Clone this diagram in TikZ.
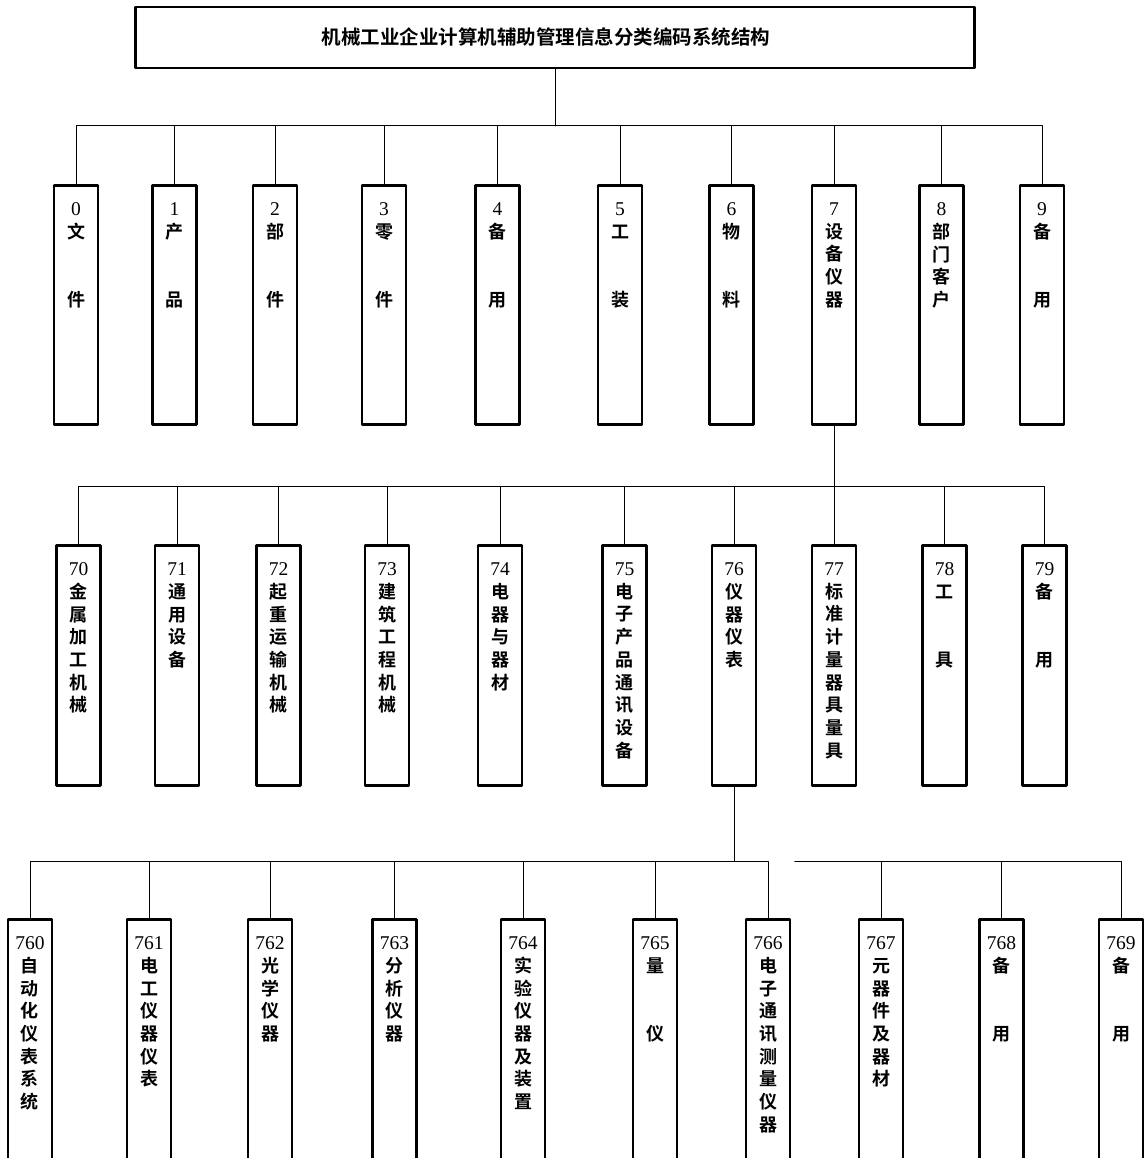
\documentclass[tikz,border=0pt]{standalone}
\usepackage{fontspec}
\setmainfont{Liberation Serif}
\newfontfamily\cjk{Noto Sans CJK SC}[BoldFont={* Bold}]
\newcommand\colbox[3]{\parbox[t][#1][t]{44pt}{\centering\vspace*{17.5pt}{\rmfamily\mdseries\fontsize{19.5}{19.5}\selectfont #2}\\#3}}
\begin{document}
\begin{tikzpicture}[x=1pt,y=-1pt,line join=round,line cap=round]
\tikzset{box/.style={draw,line width=2.6pt,inner sep=0pt,anchor=north,
    font=\cjk\bfseries\fontsize{18}{22.7}\selectfont},
  wire/.style={line width=1pt}}
\useasboundingbox[fill=white] (0,0) rectangle (1146,1158);
\clip (0,0) rectangle (1146,1158);
\node[draw,line width=2.4pt,minimum width=839pt,minimum height=61pt,
  font=\cjk\bfseries\fontsize{19.5}{19.5}\selectfont] (title) at (555,37.5)
  {\hspace*{-18pt}机械工业企业计算机辅助管理信息分类编码系统结构};
% first level
\coordinate (bus1) at (555,126);
\foreach \c/\x/\t in {0/76/{文\\[2\baselineskip]件},1/174.5/{产\\[2\baselineskip]品},
    2/275/{部\\[2\baselineskip]件},3/384/{零\\[2\baselineskip]件},4/497.5/{备\\[2\baselineskip]用},
    5/620/{工\\[2\baselineskip]装},6/731.5/{物\\[2\baselineskip]料},7/834/{设\\备\\仪\\器},
    8/941.5/{部\\门\\客\\户},9/1042/{备\\[2\baselineskip]用}}
  \node[box] (b\c) at (\x,184) {\colbox{239pt}{\c}{\t}};
\draw[wire] (title.south) -- (bus1);
\foreach \c in {0,...,9} \draw[wire] (bus1) -| (b\c.north);
% second level
\coordinate (bus2) at (834,486);
\foreach \c/\x/\t in {70/78.5/{金\\属\\加\\工\\机\\械},71/177/{通\\用\\设\\备},
    72/278.5/{起\\重\\运\\输\\机\\械},73/387/{建\\筑\\工\\程\\机\\械},
    74/500/{电\\器\\与\\器\\材},75/624.5/{电\\子\\产\\品\\通\\讯\\设\\备},
    76/734/{仪\\器\\仪\\表},77/834/{标\\准\\计\\量\\器\\具\\量\\具},
    78/944.5/{工\\[2\baselineskip]具},79/1044.5/{备\\[2\baselineskip]用}}
  \node[box] (b\c) at (\x,544) {\colbox{240pt}{\c}{\t}};
\draw[wire] (b7.south) -- (bus2);
\foreach \c in {70,...,79} \draw[wire] (bus2) -| (b\c.north);
% third level
\coordinate (bus3) at (734,861);
\coordinate (bus3r) at (795,861);
\foreach \c/\x/\t in {760/30/{自\\动\\化\\仪\\表\\系\\统},761/149/{电\\工\\仪\\器\\仪\\表},
    762/270/{光\\学\\仪\\器},763/394.5/{分\\析\\仪\\器},
    764/523/{实\\验\\仪\\器\\及\\装\\置},765/655/{量\\[2\baselineskip]仪},
    766/768/{电\\子\\通\\讯\\测\\量\\仪\\器},767/881/{元\\器\\件\\及\\器\\材},
    768/1001.5/{备\\[2\baselineskip]用},769/1121/{备\\[2\baselineskip]用}}
  \node[box] (b\c) at (\x,918) {\colbox{260pt}{\c}{\t}};
\draw[wire] (b76.south) -- (bus3);
\foreach \c in {760,...,766} \draw[wire] (bus3) -| (b\c.north);
\foreach \c in {767,768,769} \draw[wire] (bus3r) -| (b\c.north);
\end{tikzpicture}
\end{document}
